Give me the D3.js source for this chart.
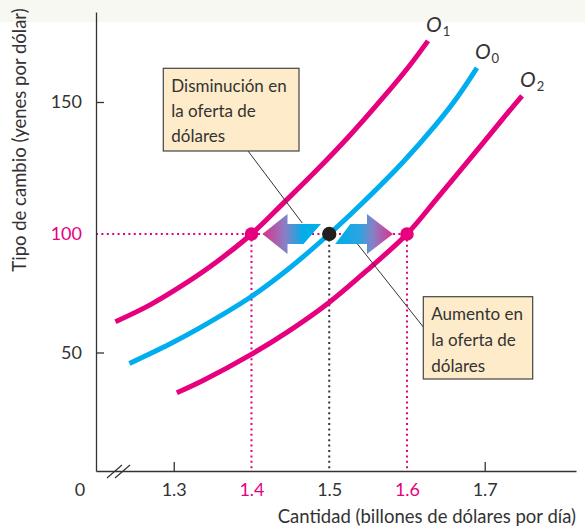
<!DOCTYPE html>
<html>
<head>
<meta charset="utf-8">
<script src="https://cdn.jsdelivr.net/npm/d3@7"></script>
<style>
    body { margin: 0; background: #ffffff; }
    svg { display: block; font-family: Lato, "Open Sans", sans-serif; }
</style>
</head>
<body>
<svg id="chart"></svg>
<script>
//supply curves, each point is [quantity (billions of dollars per day), exchange rate (yen per dollar)]
var curveO1 = [[1.225, 63.0], [1.269, 70.0], [1.312, 78.5], [1.355, 88.2], [1.400, 100], [1.441, 111.7],
    [1.484, 124.2], [1.527, 137.5], [1.570, 151.9], [1.604, 164.0], [1.627, 173.1]];
var curveO0 = [[1.243, 45.4], [1.295, 53.6], [1.334, 60.5], [1.398, 73.2], [1.445, 84.6], [1.500, 100],
    [1.540, 111.0], [1.595, 127.3], [1.638, 141.7], [1.664, 151.5], [1.690, 162.9]];
var curveO2 = [[1.304, 33.0], [1.339, 38.4], [1.398, 48.9], [1.446, 58.6], [1.499, 70.9], [1.549, 84.8],
    [1.600, 100], [1.639, 113.6], [1.682, 128.8], [1.724, 143.9], [1.748, 152.3]];

var curveNames = ["1", "0", "2"];//subscripts for the O labels
var equilibriumQty = [1.4, 1.5, 1.6];//where each curve meets the 100 yen rate
var equilibriumRate = 100;

var xTicks = [1.3, 1.4, 1.5, 1.6, 1.7];
var yTicks = [50, 100, 150];

var boxLeftText = ["Disminución en", "la oferta de", "dólares"];
var boxRightText = ["Aumento en", "la oferta de", "dólares"];

function runScript () {

    var width = 585;
    var height = 529;

    var magenta = "#e6007e";
    var cyan = "#00aeef";
    var ink = "#333333";

    var svg = d3.select("#chart")
        .attr("width", width)
        .attr("height", height);

    //light band on top of the page, as in the scan
    svg.append("rect")
        .attr("x", 0).attr("y", 0)
        .attr("width", width).attr("height", 22)
        .attr("fill", "#f8f8f3");

    //x axis is broken, it starts a bit under 1.3
    var x = d3.scaleLinear()
        .domain([1.2, 1.8174])
        .range([96, 576]);

    //the y axis of the book is not quite even, so use a piecewise scale
    var y = d3.scaleLinear()
        .domain([0, 100, 150, 184])
        .range([471, 234, 102, 12]);

    var defs = svg.append("defs");

    //dotted guide lines
    var yEq = y(equilibriumRate);
    var guides = svg.append("g").attr("class", "guides");

    guides.append("line")
        .attr("x1", x.range()[0]).attr("x2", x(equilibriumQty[2]))
        .attr("y1", yEq).attr("y2", yEq)
        .attr("stroke", magenta)
        .attr("stroke-width", 2)
        .attr("stroke-dasharray", "2,3.4");

    guides.selectAll(".vguide")
        .data(equilibriumQty)
        .enter()
        .append("line")
        .attr("class", "vguide")
        .attr("x1", function (d) { return x(d); })
        .attr("x2", function (d) { return x(d); })
        .attr("y1", yEq)
        .attr("y2", y(0))
        .attr("stroke", function (d, i) { return i == 1 ? ink : magenta; })
        .attr("stroke-width", 2)
        .attr("stroke-dasharray", "2,3.4");

    //axes
    var yAxis = d3.axisLeft(y)
        .tickValues(yTicks)
        .tickSize(-8)
        .tickSizeOuter(0)
        .tickPadding(14);

    var xAxis = d3.axisBottom(x)
        .tickValues(xTicks)
        .tickSize(-9)
        .tickSizeOuter(0)
        .tickPadding(12)
        .tickFormat(d3.format(".1f"));

    var gy = svg.append("g")
        .attr("class", "yAxis")
        .attr("transform", "translate(" + x.range()[0] + ",0)")
        .call(yAxis);

    var gx = svg.append("g")
        .attr("class", "xAxis")
        .attr("transform", "translate(0," + y(0) + ")")
        .call(xAxis);

    [gx, gy].forEach(function (g) {
        g.attr("font-family", null).attr("font-size", null);
        g.select(".domain").attr("stroke", ink).attr("stroke-width", 1.3);
        g.selectAll(".tick line").attr("stroke", ink).attr("stroke-width", 1.3);
        g.selectAll(".tick text")
            .attr("font-size", 18)
            .attr("fill", ink);
    });

    //the guide lines replace the ticks at the equilibrium values
    gy.selectAll(".tick")
        .filter(function (d) { return d == equilibriumRate; })
        .call(function (t) {
            t.select("line").remove();
            t.select("text").attr("fill", magenta);
        });

    gx.selectAll(".tick")
        .filter(function (d) { return equilibriumQty.indexOf(d) >= 0; })
        .call(function (t) {
            t.select("line").remove();
            t.select("text").attr("fill", function (d) {
                return d == equilibriumQty[1] ? ink : magenta;
            });
        });

    //axis break mark
    var ox = x.range()[0];
    var oy = y(0);
    svg.selectAll(".breakmark")
        .data([0, 8])
        .enter()
        .append("line")
        .attr("class", "breakmark")
        .attr("x1", function (d) { return ox + 11 + d; })
        .attr("y1", oy + 7)
        .attr("x2", function (d) { return ox + 26 + d; })
        .attr("y2", oy - 6)
        .attr("stroke", ink)
        .attr("stroke-width", 1.2);

    svg.append("text")
        .attr("x", 80).attr("y", 496)
        .attr("text-anchor", "middle")
        .attr("font-size", 18)
        .attr("fill", ink)
        .text("0");

    //axis titles
    svg.append("text")
        .attr("x", 576).attr("y", 523)
        .attr("text-anchor", "end")
        .attr("font-size", 18.5)
        .attr("fill", ink)
        .text("Cantidad (billones de dólares por día)");

    svg.append("text")
        .attr("transform", "translate(26,140) rotate(-90)")
        .attr("text-anchor", "middle")
        .attr("font-size", 18.5)
        .attr("fill", ink)
        .text("Tipo de cambio (yenes por dólar)");

    //supply curves
    var line = d3.line()
        .x(function (d) { return x(d[0]); })
        .y(function (d) { return y(d[1]); })
        .curve(d3.curveCatmullRom.alpha(0.5));

    var curves = [curveO1, curveO0, curveO2];
    var curveColors = [magenta, cyan, magenta];

    svg.selectAll(".supply")
        .data(curves)
        .enter()
        .append("path")
        .attr("class", "supply")
        .attr("d", line)
        .attr("fill", "none")
        .attr("stroke", function (d, i) { return curveColors[i]; })
        .attr("stroke-width", 5);

    //O labels at the top end of each curve
    var labels = svg.selectAll(".curveLabel")
        .data(curves)
        .enter()
        .append("text")
        .attr("class", "curveLabel")
        .attr("x", function (d) { return x(d[d.length - 1][0]) - 2; })
        .attr("y", function (d) { return y(d[d.length - 1][1]) - 9; })
        .attr("fill", ink);

    labels.append("tspan")
        .attr("font-style", "italic")
        .attr("font-size", 21)
        .text("O");

    labels.append("tspan")
        .attr("font-size", 13)
        .attr("dx", 1)
        .attr("dy", 4)
        .text(function (d, i) { return curveNames[i]; });

    //leader lines from the boxes to the arrows
    var xl = x(equilibriumQty[0]);
    var xm = x(equilibriumQty[1]);
    var xr = x(equilibriumQty[2]);

    svg.append("line")
        .attr("x1", 248).attr("y1", 151)
        .attr("x2", xm - 27).attr("y2", yEq - 11)
        .attr("stroke", ink).attr("stroke-width", 1);

    svg.append("line")
        .attr("x1", 423.3).attr("y1", 327)
        .attr("x2", xm + 27.7).attr("y2", yEq + 9.3)
        .attr("stroke", ink).attr("stroke-width", 1);

    //gradients for the shift arrows
    function addGradient (id, x1, x2, stops) {
        var g = defs.append("linearGradient")
            .attr("id", id)
            .attr("gradientUnits", "userSpaceOnUse")
            .attr("x1", x1).attr("x2", x2)
            .attr("y1", 0).attr("y2", 0);
        g.selectAll("stop")
            .data(stops)
            .enter()
            .append("stop")
            .attr("offset", function (d) { return d[0]; })
            .attr("stop-color", function (d) { return d[1]; });
    }

    addGradient("gradLeft", xl + 11, xm - 26, [[0, "#dc2f8b"], [0.55, "#8a7fc4"], [1, "#00aeea"]]);
    addGradient("gradRight", xm + 8, xr - 14, [[0, "#00aeea"], [0.4, "#2ca4e0"], [0.65, "#8a7fc4"], [1, "#dc2f8b"]]);

    var hh = 20;//half height of arrow head
    var bh = 10;//half height of arrow body

    var leftArrow = [
        [xl + 11, yEq],
        [xl + 36, yEq - hh],
        [xl + 36, yEq - bh],
        [xm - 8.3, yEq - bh],
        [xm - 25.7, yEq + bh],
        [xl + 36, yEq + bh],
        [xl + 36, yEq + hh]
    ];

    var rightArrow = [
        [xr - 14, yEq],
        [xr - 40, yEq - hh],
        [xr - 40, yEq - bh],
        [xm + 21, yEq - bh],
        [xm + 6, yEq + bh],
        [xr - 40, yEq + bh],
        [xr - 40, yEq + hh]
    ];

    svg.selectAll(".shiftArrow")
        .data([leftArrow, rightArrow])
        .enter()
        .append("path")
        .attr("class", "shiftArrow")
        .attr("d", function (d) { return "M" + d.join("L") + "Z"; })
        .attr("fill", function (d, i) { return i == 0 ? "url(#gradLeft)" : "url(#gradRight)"; });

    //equilibrium points
    svg.selectAll(".eqPoint")
        .data(equilibriumQty)
        .enter()
        .append("circle")
        .attr("class", "eqPoint")
        .attr("cx", function (d) { return x(d); })
        .attr("cy", yEq)
        .attr("r", function (d, i) { return i == 1 ? 7.2 : 6.8; })
        .attr("fill", function (d, i) { return i == 1 ? "#231f20" : magenta; });

    //annotation boxes
    function addBox (left, top, w, h, lines, baselines) {
        var g = svg.append("g").attr("class", "noteBox");
        g.append("rect")
            .attr("x", left).attr("y", top)
            .attr("width", w).attr("height", h)
            .attr("fill", "#fdebc9")
            .attr("stroke", "#444")
            .attr("stroke-width", 1.2);
        g.selectAll("text")
            .data(lines)
            .enter()
            .append("text")
            .attr("x", left + 8)
            .attr("y", function (d, i) { return baselines[i]; })
            .attr("font-size", 17)
            .attr("fill", ink)
            .text(function (d) { return d; });
    }

    addBox(163.3, 68.3, 135.7, 82.7, boxLeftText, [91.7, 116.7, 141.7]);
    addBox(423.3, 296.7, 109.4, 82.3, boxRightText, [320, 346, 371.7]);

    console.log("chart drawn");
}

window.onload = runScript;
</script>
</body>
</html>
